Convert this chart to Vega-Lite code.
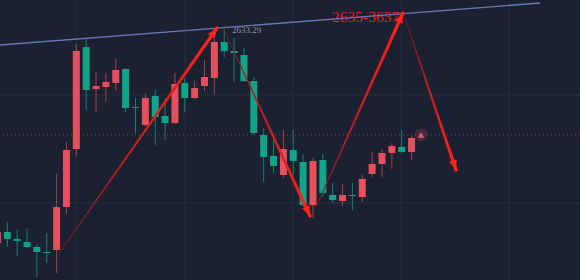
{
  "$schema": "https://vega.github.io/schema/vega-lite/v6.json",
  "width": 580,
  "height": 280,
  "autosize": {"type": "fit", "contains": "padding"},
  "padding": 0,
  "background": "#1b2130",
  "config": {"view": {"stroke": null}},
  "datasets": {
    "candles": [
      {"i": 0, "o": 2593.48, "h": 2596.25, "l": 2592.55, "c": 2595.51},
      {"i": 1, "o": 2595.51, "h": 2597.36, "l": 2592.73, "c": 2594.22},
      {"i": 2, "o": 2594.22, "h": 2596.07, "l": 2591.07, "c": 2593.85},
      {"i": 3, "o": 2593.66, "h": 2596.25, "l": 2592.55, "c": 2592.73},
      {"i": 4, "o": 2592.73, "h": 2593.29, "l": 2587.18, "c": 2591.81},
      {"i": 5, "o": 2591.81, "h": 2595.33, "l": 2589.77, "c": 2591.62},
      {"i": 6, "o": 2592.18, "h": 2606.25, "l": 2587.92, "c": 2600.14},
      {"i": 7, "o": 2600.14, "h": 2612.18, "l": 2598.85, "c": 2610.70},
      {"i": 8, "o": 2610.88, "h": 2630.33, "l": 2609.59, "c": 2629.03},
      {"i": 9, "o": 2629.77, "h": 2631.25, "l": 2618.11, "c": 2621.81},
      {"i": 10, "o": 2621.99, "h": 2625.14, "l": 2617.73, "c": 2622.55},
      {"i": 11, "o": 2622.36, "h": 2624.96, "l": 2619.59, "c": 2623.29},
      {"i": 12, "o": 2623.11, "h": 2627.55, "l": 2621.62, "c": 2625.51},
      {"i": 13, "o": 2625.70, "h": 2625.88, "l": 2617.73, "c": 2618.48},
      {"i": 14, "o": 2618.66, "h": 2620.33, "l": 2613.85, "c": 2618.48},
      {"i": 15, "o": 2615.33, "h": 2621.25, "l": 2615.14, "c": 2620.33},
      {"i": 16, "o": 2620.70, "h": 2621.81, "l": 2611.62, "c": 2616.81},
      {"i": 17, "o": 2616.99, "h": 2620.33, "l": 2612.55, "c": 2615.70},
      {"i": 18, "o": 2615.70, "h": 2624.96, "l": 2615.51, "c": 2622.92},
      {"i": 19, "o": 2623.11, "h": 2624.03, "l": 2617.73, "c": 2620.33},
      {"i": 20, "o": 2620.33, "h": 2623.48, "l": 2620.14, "c": 2622.18},
      {"i": 21, "o": 2622.55, "h": 2627.36, "l": 2621.62, "c": 2624.22},
      {"i": 22, "o": 2624.03, "h": 2633.29, "l": 2621.07, "c": 2630.70},
      {"i": 23, "o": 2630.70, "h": 2633.10, "l": 2627.92, "c": 2629.03},
      {"i": 24, "o": 2629.03, "h": 2631.44, "l": 2623.29, "c": 2628.66},
      {"i": 25, "o": 2628.29, "h": 2629.59, "l": 2623.29, "c": 2623.48},
      {"i": 26, "o": 2623.48, "h": 2624.22, "l": 2613.48, "c": 2613.85},
      {"i": 27, "o": 2613.48, "h": 2614.77, "l": 2604.77, "c": 2609.40},
      {"i": 28, "o": 2609.59, "h": 2612.55, "l": 2606.44, "c": 2607.73},
      {"i": 29, "o": 2606.07, "h": 2614.40, "l": 2605.51, "c": 2610.88},
      {"i": 30, "o": 2610.70, "h": 2614.40, "l": 2606.07, "c": 2608.66},
      {"i": 31, "o": 2608.48, "h": 2609.96, "l": 2600.14, "c": 2600.51},
      {"i": 32, "o": 2600.51, "h": 2609.22, "l": 2598.11, "c": 2608.66},
      {"i": 33, "o": 2608.85, "h": 2609.96, "l": 2601.99, "c": 2602.73},
      {"i": 34, "o": 2602.36, "h": 2604.59, "l": 2600.88, "c": 2601.44},
      {"i": 35, "o": 2601.25, "h": 2604.40, "l": 2600.33, "c": 2602.36},
      {"i": 36, "o": 2602.36, "h": 2604.59, "l": 2599.59, "c": 2602.17},
      {"i": 37, "o": 2601.99, "h": 2606.07, "l": 2601.07, "c": 2605.33},
      {"i": 38, "o": 2606.25, "h": 2610.33, "l": 2605.70, "c": 2608.11},
      {"i": 39, "o": 2608.11, "h": 2610.88, "l": 2605.70, "c": 2610.14},
      {"i": 40, "o": 2610.14, "h": 2611.99, "l": 2607.18, "c": 2611.44},
      {"i": 41, "o": 2611.25, "h": 2614.40, "l": 2610.14, "c": 2610.33},
      {"i": 42, "o": 2610.33, "h": 2613.29, "l": 2608.85, "c": 2612.92}
    ],
    "arrows": [
      {"arrow": 1, "dir": "up", "t": 0, "i": 6.142, "p": 2591.25},
      {"arrow": 1, "dir": "up", "t": 1, "i": 22.268, "p": 2633.29},
      {"arrow": 2, "dir": "down", "t": 0, "i": 23.079, "p": 2632.55},
      {"arrow": 2, "dir": "down", "t": 1, "i": 31.700, "p": 2598.48},
      {"arrow": 3, "dir": "up", "t": 0, "i": 32.308, "p": 2600.14},
      {"arrow": 3, "dir": "up", "t": 1, "i": 41.132, "p": 2636.07},
      {"arrow": 4, "dir": "down", "t": 0, "i": 41.335, "p": 2635.14},
      {"arrow": 4, "dir": "down", "t": 1, "i": 46.507, "p": 2606.99}
    ]
  },
  "layer": [
    {
      "data": {"values": [{"i": 7.967}, {"i": 19.02}, {"i": 29.976}, {"i": 40.93}, {"i": 51.88}]},
      "mark": {"type": "rule", "color": "#252c3a", "strokeWidth": 1, "clip": true},
      "encoding": {
        "x": {"field": "i", "type": "quantitative", "axis": null, "scale": {"domain": [0.2596, 59.08], "nice": false, "zero": false, "padding": 0}}
      }
    },
    {
      "data": {"values": [{"p": 2620.88}, {"p": 2600.88}]},
      "mark": {"type": "rule", "color": "#252c3a", "strokeWidth": 1, "clip": true},
      "encoding": {
        "y": {"field": "p", "type": "quantitative", "axis": null, "scale": {"domain": [2586.62, 2638.475], "nice": false, "zero": false, "padding": 0}}
      }
    },
    {
      "data": {"values": [{"p": 2613.48}]},
      "mark": {"type": "rule", "color": "#8a3b4a", "strokeWidth": 1, "strokeDash": [1, 3], "clip": true},
      "encoding": {
        "y": {"field": "p", "type": "quantitative", "axis": null}
      }
    },
    {
      "data": {"values": [{"i": 0.2596, "p": 2630.14}, {"i": 55.026, "p": 2637.92}]},
      "mark": {"type": "line", "color": "#6478b8", "strokeWidth": 1.3, "clip": true},
      "encoding": {
        "x": {"field": "i", "type": "quantitative", "axis": null},
        "y": {"field": "p", "type": "quantitative", "axis": null}
      }
    },
    {
      "data": {"name": "candles"},
      "mark": {"type": "rule", "strokeWidth": 1, "opacity": 0.75, "clip": true},
      "encoding": {
        "x": {"field": "i", "type": "quantitative", "axis": null},
        "y": {"field": "l", "type": "quantitative", "axis": null},
        "y2": {"field": "h"},
        "color": {"condition": {"test": "datum.c >= datum.o", "value": "#d04a57"}, "value": "#14a085"}
      }
    },
    {
      "data": {"name": "candles"},
      "mark": {"type": "bar", "size": 7, "minBandSize": 1, "clip": true},
      "encoding": {
        "x": {"field": "i", "type": "quantitative", "axis": null},
        "y": {"field": "o", "type": "quantitative", "axis": null},
        "y2": {"field": "c"},
        "color": {"condition": {"test": "datum.c >= datum.o", "value": "#e2515d"}, "value": "#12a488"}
      }
    },
    {
      "data": {"name": "arrows"},
      "transform": [{"filter": "datum.dir == 'up'"}],
      "mark": {"type": "trail", "clip": true, "fill": {"gradient": "linear", "x1": 0, "y1": 1, "x2": 1, "y2": 0, "stops": [{"offset": 0, "color": "#7a1c22"}, {"offset": 0.6, "color": "#d8201c"}, {"offset": 1, "color": "#ff2417"}]}},
      "encoding": {
        "x": {"field": "i", "type": "quantitative", "axis": null},
        "y": {"field": "p", "type": "quantitative", "axis": null},
        "detail": {"field": "arrow"},
        "order": {"field": "t"},
        "size": {"field": "t", "type": "quantitative", "legend": null, "scale": {"domain": [0, 1], "range": [0.7, 3.4]}}
      }
    },
    {
      "data": {"name": "arrows"},
      "transform": [{"filter": "datum.dir == 'down'"}],
      "mark": {"type": "trail", "clip": true, "fill": {"gradient": "linear", "x1": 0, "y1": 0, "x2": 1, "y2": 1, "stops": [{"offset": 0, "color": "#7a1c22"}, {"offset": 0.6, "color": "#d8201c"}, {"offset": 1, "color": "#ff2417"}]}},
      "encoding": {
        "x": {"field": "i", "type": "quantitative", "axis": null},
        "y": {"field": "p", "type": "quantitative", "axis": null},
        "detail": {"field": "arrow"},
        "order": {"field": "t"},
        "size": {"field": "t", "type": "quantitative", "legend": null, "scale": {"domain": [0, 1], "range": [0.7, 3.4]}}
      }
    },
    {
      "data": {"name": "arrows"},
      "transform": [{"filter": "datum.arrow == 1 && datum.t == 1"}],
      "mark": {"type": "point", "shape": "M0,0L0.8,2L-0.8,2Z", "filled": true, "size": 100, "angle": 35, "color": "#ff2417", "opacity": 1, "clip": true},
      "encoding": {
        "x": {"field": "i", "type": "quantitative", "axis": null},
        "y": {"field": "p", "type": "quantitative", "axis": null}
      }
    },
    {
      "data": {"name": "arrows"},
      "transform": [{"filter": "datum.arrow == 2 && datum.t == 1"}],
      "mark": {"type": "point", "shape": "M0,0L0.8,2L-0.8,2Z", "filled": true, "size": 100, "angle": 155.2, "color": "#ff2417", "opacity": 1, "clip": true},
      "encoding": {
        "x": {"field": "i", "type": "quantitative", "axis": null},
        "y": {"field": "p", "type": "quantitative", "axis": null}
      }
    },
    {
      "data": {"name": "arrows"},
      "transform": [{"filter": "datum.arrow == 3 && datum.t == 1"}],
      "mark": {"type": "point", "shape": "M0,0L0.8,2L-0.8,2Z", "filled": true, "size": 100, "angle": 24.2, "color": "#ff2417", "opacity": 1, "clip": true},
      "encoding": {
        "x": {"field": "i", "type": "quantitative", "axis": null},
        "y": {"field": "p", "type": "quantitative", "axis": null}
      }
    },
    {
      "data": {"name": "arrows"},
      "transform": [{"filter": "datum.arrow == 4 && datum.t == 1"}],
      "mark": {"type": "point", "shape": "M0,0L0.8,2L-0.8,2Z", "filled": true, "size": 100, "angle": 161.5, "color": "#ff2417", "opacity": 1, "clip": true},
      "encoding": {
        "x": {"field": "i", "type": "quantitative", "axis": null},
        "y": {"field": "p", "type": "quantitative", "axis": null}
      }
    },
    {
      "data": {"values": [{"i": 42.957, "p": 2613.48}]},
      "mark": {"type": "point", "shape": "circle", "filled": true, "size": 170, "color": "#e05060", "opacity": 0.2, "clip": true},
      "encoding": {
        "x": {"field": "i", "type": "quantitative", "axis": null},
        "y": {"field": "p", "type": "quantitative", "axis": null}
      }
    },
    {
      "data": {"values": [{"i": 42.957, "p": 2613.48}]},
      "mark": {"type": "point", "shape": "triangle-up", "filled": true, "size": 40, "color": "#e8586a", "opacity": 1, "clip": true},
      "encoding": {
        "x": {"field": "i", "type": "quantitative", "axis": null},
        "y": {"field": "p", "type": "quantitative", "axis": null}
      }
    },
    {
      "data": {"values": [{"label": "2635-3637", "i": 33.93, "p": 2635.24}]},
      "mark": {"type": "text", "align": "left", "baseline": "middle", "font": "Liberation Sans Narrow", "fontSize": 15.5, "color": "#d9282b", "clip": true},
      "encoding": {
        "x": {"field": "i", "type": "quantitative", "axis": null},
        "y": {"field": "p", "type": "quantitative", "axis": null},
        "text": {"field": "label"}
      }
    },
    {
      "data": {"values": [{"label": "2633.29", "i": 23.789, "p": 2632.83}]},
      "mark": {"type": "text", "align": "left", "baseline": "middle", "font": "Liberation Sans Narrow", "fontSize": 9, "color": "#8c919c", "clip": true},
      "encoding": {
        "x": {"field": "i", "type": "quantitative", "axis": null},
        "y": {"field": "p", "type": "quantitative", "axis": null},
        "text": {"field": "label"}
      }
    }
  ]
}
